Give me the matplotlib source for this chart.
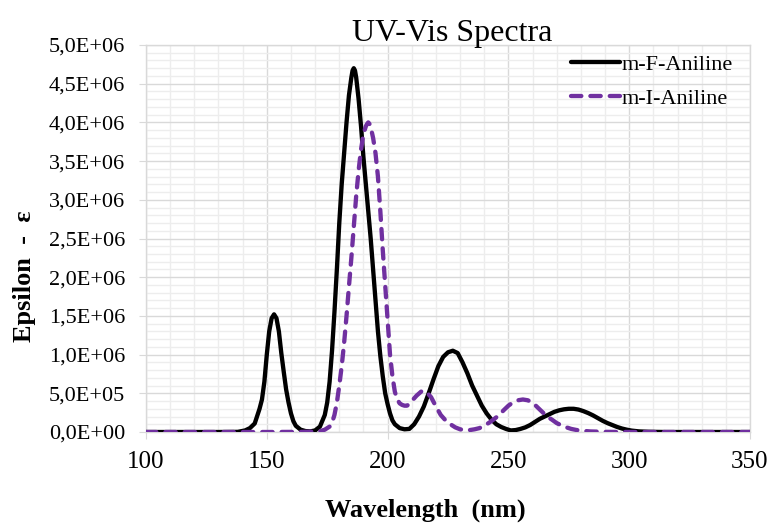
import matplotlib
matplotlib.use('Agg')
import matplotlib.pyplot as plt
from matplotlib.ticker import MultipleLocator, FuncFormatter

plt.rcParams['font.family'] = ['Liberation Serif', 'DejaVu Serif']

# m-F-Aniline (epsilon in units of 1E+06)
wl_f = [100, 110, 120, 130, 138, 141, 143, 145, 147, 148, 149, 150, 151, 152, 153,
        154, 155, 156, 157, 158, 159, 160, 161, 162, 164, 166, 168, 170, 172, 174,
        175, 176, 177, 178, 179, 180, 181, 182, 183, 184, 185, 185.5, 186, 186.5, 187, 188, 189,
        190, 191, 192, 193, 194, 195, 196, 197, 198, 199, 200, 201, 202, 203, 205,
        207, 209, 211, 213, 215, 217, 219, 221, 223, 225, 227, 229, 231, 233, 235,
        237, 239, 241, 243, 245, 247, 249, 251, 253, 255, 257, 259, 261, 263, 265,
        267, 269, 271, 273, 275, 277, 279, 281, 283, 285, 287, 289, 291, 293, 295,
        297, 299, 301, 304, 308, 315, 330, 350]
eps_f = [0, 0, 0, 0, 0.002, 0.02, 0.05, 0.11, 0.3, 0.42, 0.65, 1.0, 1.3, 1.47, 1.52,
         1.47, 1.3, 1.02, 0.78, 0.55, 0.38, 0.24, 0.14, 0.08, 0.03, 0.012, 0.008, 0.02, 0.07, 0.22,
         0.38, 0.65, 1.05, 1.55, 2.1, 2.7, 3.2, 3.6, 4.0, 4.35, 4.58, 4.67, 4.7, 4.67, 4.58, 4.3, 3.95,
         3.55, 3.2, 2.85, 2.5, 2.1, 1.7, 1.3, 0.98, 0.72, 0.5, 0.36, 0.24, 0.15, 0.1, 0.05,
         0.035, 0.04, 0.1, 0.2, 0.33, 0.5, 0.68, 0.85, 0.97, 1.03, 1.05, 1.02, 0.9, 0.76, 0.6,
         0.47, 0.34, 0.24, 0.16, 0.1, 0.065, 0.04, 0.02, 0.025, 0.04, 0.06, 0.09, 0.13, 0.17, 0.2,
         0.23, 0.26, 0.28, 0.293, 0.3, 0.3, 0.29, 0.27, 0.245, 0.215, 0.18, 0.145, 0.115, 0.09, 0.065,
         0.045, 0.03, 0.018, 0.008, 0.003, 0, 0, 0]

# m-I-Aniline
wl_i = [100, 120, 150, 165, 170, 172, 174, 176, 177, 178, 179, 180, 181, 182, 183,
        184, 185, 186, 187, 188, 189, 190, 191, 191.5, 192, 192.5, 193, 194, 195, 196, 197, 198,
        199, 200, 201, 202, 203, 204, 205, 206, 207, 208, 209, 210, 212, 214, 215,
        216, 218, 220, 222, 224, 226, 228, 230, 232, 234, 236, 238, 240, 242, 244,
        246, 248, 250, 252, 254, 256, 258, 260, 262, 264, 266, 268, 270, 272, 274,
        276, 278, 280, 284, 290, 300, 320, 350]
eps_i = [0, 0, 0, 0.002, 0.005, 0.01, 0.03, 0.07, 0.12, 0.22, 0.38, 0.6, 0.85, 1.15, 1.5,
         1.88, 2.25, 2.65, 3.05, 3.38, 3.65, 3.85, 3.95, 3.98, 4.0, 3.98, 3.94, 3.8, 3.6, 3.3, 2.85, 2.35,
         1.9, 1.45, 1.0, 0.72, 0.52, 0.42, 0.37, 0.35, 0.34, 0.34, 0.36, 0.4, 0.47, 0.525, 0.53,
         0.52, 0.45, 0.33, 0.22, 0.15, 0.1, 0.06, 0.035, 0.025, 0.025, 0.035, 0.05, 0.08, 0.12, 0.165,
         0.215, 0.28, 0.34, 0.385, 0.41, 0.42, 0.41, 0.38, 0.32, 0.26, 0.2, 0.16, 0.115, 0.085, 0.06,
         0.04, 0.027, 0.017, 0.007, 0.002, 0, 0, 0]

eps_f = [v * 1e6 for v in eps_f]
eps_i = [v * 1e6 for v in eps_i]

fig = plt.figure(figsize=(7.73, 5.25), dpi=100)
ax = fig.add_axes([146 / 773, 1 - 432 / 525, 604 / 773, 387 / 525])

ax.plot(wl_f, eps_f, color='black', lw=3.1, label='m-F-Aniline', zorder=3,
        solid_capstyle='round', solid_joinstyle='round')
ax.plot(wl_i, eps_i, color='#7030A0', lw=3.1, label='m-I-Aniline', zorder=4,
        dashes=(2.4, 2.1), dash_capstyle='round')

ax.set_xlim(100, 350)
ax.set_ylim(0, 5e6)
ax.xaxis.set_major_locator(MultipleLocator(50))
ax.xaxis.set_minor_locator(MultipleLocator(10))
ax.yaxis.set_major_locator(MultipleLocator(5e5))
ax.yaxis.set_minor_locator(MultipleLocator(1e5))
ax.yaxis.set_major_formatter(FuncFormatter(lambda v, p: f'{v:.1E}'.replace('.', ',')))

ax.grid(which='major', color='#D9D9D9', lw=1.0, zorder=1)
ax.grid(which='minor', color='#EDEDED', lw=1.0, zorder=0)
ax.set_axisbelow(True)
for s in ax.spines.values():
    s.set_color('#D9D9D9')
    s.set_linewidth(1.0)

ax.tick_params(axis='y', which='major', length=5, color='#D9D9D9', labelsize=16, pad=10)
ax.tick_params(axis='x', which='major', length=5, color='#D9D9D9', labelsize=18, pad=9)
ax.tick_params(which='minor', length=0)

fig.text(452 / 773, 1 - 41 / 525, 'UV-Vis Spectra', fontsize=23, ha='center', va='baseline')
fig.text(425 / 773, 1 - 517 / 525, 'Wavelength  (nm)', fontsize=19, fontweight='bold',
         ha='center', va='baseline')
fig.text(24 / 773, 1 - 276 / 525, 'Epsilon  -  ε', fontsize=19, fontweight='bold',
         rotation=90, ha='center', va='center')

ax.legend(loc='upper right', frameon=False, fontsize=16, handlelength=2.2,
          handletextpad=0.1, labelspacing=0.6, bbox_to_anchor=(1.005, 1.027))

fig.savefig('out.png', dpi=100)
